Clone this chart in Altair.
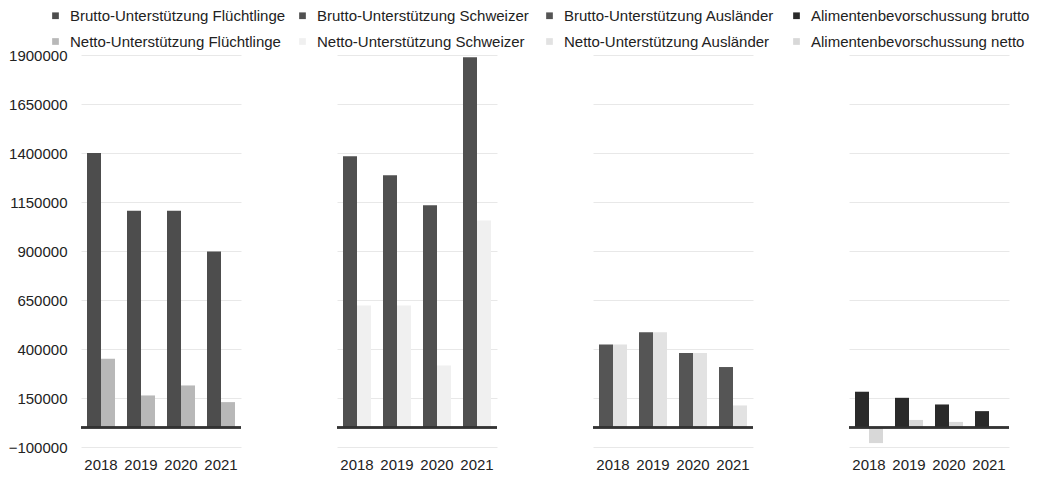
import altair as alt
import pandas as pd

groups = ["Flüchtlinge", "Schweizer", "Ausländer", "Alimentenbevorschussung"]
years = ["2018", "2019", "2020", "2021"]
kinds = ["Brutto", "Netto"]

series_labels = [
    "Brutto-Unterstützung Flüchtlinge",
    "Brutto-Unterstützung Schweizer",
    "Brutto-Unterstützung Ausländer",
    "Alimentenbevorschussung brutto",
    "Netto-Unterstützung Flüchtlinge",
    "Netto-Unterstützung Schweizer",
    "Netto-Unterstützung Ausländer",
    "Alimentenbevorschussung netto",
]

brutto_fluechtlinge = [1400000, 1105000, 1105000, 898000]
netto_fluechtlinge = [350000, 163000, 214000, 129000]
brutto_schweizer = [1383000, 1286000, 1133000, 1889000]
netto_schweizer = [622000, 622000, 316000, 1056000]
brutto_auslaender = [423000, 486000, 379000, 308000]
netto_auslaender = [423000, 486000, 379000, 112000]
alimente_brutto = [182000, 151000, 117000, 83000]
alimente_netto = [-80000, 38000, 28000, 5000]

y_ticks = [-100000, 150000, 400000, 650000, 900000, 1150000, 1400000, 1650000, 1900000]

colors = ["#4d4d4d", "#505050", "#555555", "#2a2a2a",
          "#b8b8b8", "#f0f0f0", "#e2e2e2", "#d8d8d8"]

series_values = [
    (groups[0], "Brutto", series_labels[0], brutto_fluechtlinge),
    (groups[0], "Netto", series_labels[4], netto_fluechtlinge),
    (groups[1], "Brutto", series_labels[1], brutto_schweizer),
    (groups[1], "Netto", series_labels[5], netto_schweizer),
    (groups[2], "Brutto", series_labels[2], brutto_auslaender),
    (groups[2], "Netto", series_labels[6], netto_auslaender),
    (groups[3], "Brutto", series_labels[3], alimente_brutto),
    (groups[3], "Netto", series_labels[7], alimente_netto),
]

rows = []
for g, k, s, vals in series_values:
    for y, v in zip(years, vals):
        rows.append({"group": g, "kind": k, "series": s, "year": y, "value": v})
df = pd.DataFrame(rows)

FONT = "Liberation Sans"

base = alt.Chart(df)

bars = base.mark_bar().encode(
    x=alt.X("year:N", sort=years,
            scale=alt.Scale(paddingInner=0.3, paddingOuter=0.15),
            axis=alt.Axis(title=None, labelAngle=0, ticks=False, domain=False,
                          labelPadding=10, labelFontSize=15, labelColor="#222222",
                          grid=False)),
    xOffset=alt.XOffset("kind:N", sort=kinds,
                        scale=alt.Scale(paddingInner=0, paddingOuter=0)),
    y=alt.Y("value:Q",
            scale=alt.Scale(domain=[-100000, 1900000], nice=False, zero=False),
            axis=alt.Axis(title=None, values=y_ticks, format="d", domain=False,
                          ticks=False, labelFontSize=15, labelColor="#222222",
                          labelPadding=13, gridColor="#e8e8e8", gridWidth=1)),
    color=alt.Color("series:N", sort=series_labels,
                    scale=alt.Scale(domain=series_labels, range=colors),
                    legend=alt.Legend(title=None, orient="none",
                                      legendX=-33, legendY=-47,
                                      direction="horizontal", columns=4,
                                      gridAlign="all", columnPadding=6,
                                      rowPadding=10, symbolType="square",
                                      symbolSize=45, symbolStrokeWidth=0,
                                      labelFontSize=15, labelOffset=7,
                                      labelLimit=0, labelColor="#222222",
                                      padding=0)),
)

rule = base.mark_rule(color="#333333", strokeWidth=1.5).encode(
    y=alt.datum(0)
)

chart = alt.layer(bars, rule).properties(width=160, height=392).facet(
    column=alt.Column("group:N", sort=groups,
                      header=alt.Header(labels=False, title=None)),
    spacing=94,
).properties(padding=0).configure(font=FONT).configure_view(stroke=None)

chart.save("out.html", embed_options={"renderer": "svg", "actions": False})
